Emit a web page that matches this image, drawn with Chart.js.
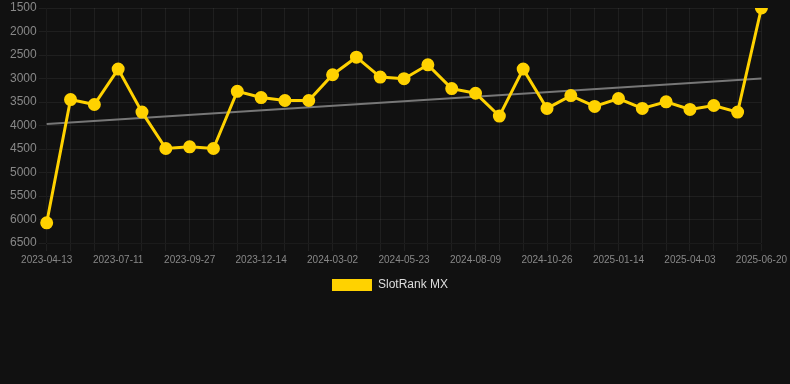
<!DOCTYPE html>
<html>
<head>
<meta charset="utf-8">
<script src="https://cdn.jsdelivr.net/npm/chart.js@4"></script>
<style>
  html, body { margin: 0; padding: 0; background: #111111; }
  #wrap { position: relative; width: 790px; height: 301px; }
</style>
</head>
<body>
<div id="wrap"><canvas id="c"></canvas></div>
<script>
const dates = [
  "2023-04-13","2023-05-13","2023-06-12","2023-07-11","2023-08-06","2023-09-01",
  "2023-09-27","2023-10-23","2023-11-18","2023-12-14","2024-01-09","2024-02-05",
  "2024-03-02","2024-03-29","2024-04-26","2024-05-23","2024-06-18","2024-07-14",
  "2024-08-09","2024-09-04","2024-09-30","2024-10-26","2024-11-21","2024-12-18",
  "2025-01-14","2025-02-09","2025-03-08","2025-04-03","2025-04-29","2025-05-25",
  "2025-06-20"
];
const rankMX = [
  6070, 3448, 3553, 2800, 3715, 4489,
  4454, 4489, 3272, 3405, 3468, 3468,
  2920, 2547, 2969, 3004, 2709, 3215,
  3314, 3800, 2800, 3637, 3363, 3595,
  3426, 3637, 3497, 3658, 3574, 3715,
  1500
];
const trendStart = 3968;
const trendEnd = 2998;
const yTicks = [1500, 2000, 2500, 3000, 3500, 4000, 4500, 5000, 5500, 6000, 6500];

const trend = dates.map((d, i) => i === 0 ? trendStart : (i === dates.length - 1 ? trendEnd : null));

new Chart(document.getElementById('c'), {
  type: 'line',
  data: {
    labels: dates,
    datasets: [
      {
        label: 'SlotRank MX',
        data: rankMX,
        borderColor: '#FFD200',
        backgroundColor: '#FFD200',
        borderWidth: 3,
        pointRadius: 5,
        pointHoverRadius: 5,
        pointBackgroundColor: '#FFD200',
        pointBorderColor: '#FFD200',
        tension: 0
      },
      {
        label: 'trend',
        data: trend,
        spanGaps: true,
        borderColor: '#777777',
        borderWidth: 2,
        pointRadius: 0,
        fill: false
      }
    ]
  },
  options: {
    responsive: true,
    maintainAspectRatio: false,
    animation: false,
    layout: { padding: { left: 8, right: 18, top: 0, bottom: 0 } },
    plugins: {
      legend: {
        position: 'bottom',
        labels: {
          color: '#dddddd',
          font: { family: 'Arial, "Liberation Sans", sans-serif', size: 12 },
          boxWidth: 40,
          boxHeight: 12,
          filter: (item) => item.text !== 'trend',
          generateLabels: (chart) => {
            const items = Chart.defaults.plugins.legend.labels.generateLabels(chart);
            items.forEach(it => { it.lineWidth = 0; });
            return items;
          }
        }
      },
      tooltip: { enabled: false }
    },
    scales: {
      x: {
        grid: { color: 'rgba(255,255,255,0.06)' },
        ticks: {
          color: '#888888',
          font: { family: 'Arial, "Liberation Sans", sans-serif', size: 10 },
          maxRotation: 0,
          autoSkip: false,
          callback: function(v, i) { return i % 3 === 0 ? dates[i] : ''; }
        }
      },
      y: {
        reverse: true,
        min: yTicks[0],
        max: yTicks[yTicks.length - 1],
        grid: { color: 'rgba(255,255,255,0.06)' },
        afterBuildTicks: (axis) => { axis.ticks = yTicks.map(v => ({ value: v })); },
        ticks: {
          color: '#888888',
          padding: 2,
          font: { family: 'Arial, "Liberation Sans", sans-serif', size: 12, lineHeight: 0.7 },
          callback: (v) => String(v)
        }
      }
    }
  }
});
</script>
</body>
</html>
